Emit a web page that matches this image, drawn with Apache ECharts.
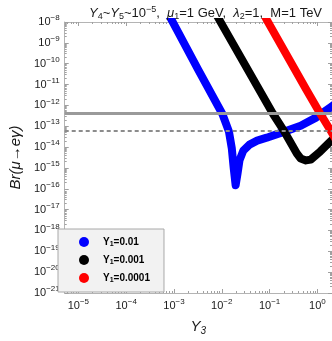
<!DOCTYPE html>
<html lang="en">
<head>
<meta charset="UTF-8">
<title>Br(mu -> e gamma) vs Y3</title>
<style>
  html, body { margin: 0; padding: 0; background: #fff; }
  #main { width: 332px; height: 341px; }
</style>
</head>
<body>
<div id="main"></div>
<script src="https://cdn.jsdelivr.net/npm/echarts@6/dist/echarts.min.js"></script>
<script>
// all values are log10
var seriesNames = ['Y1=0.01', 'Y1=0.001', 'Y1=0.0001'];
var seriesColors = ['#0000ff', '#000000', '#ff0000'];

var logY3Blue = [-3.20, -3.03, -2.50, -1.99, -1.85, -1.79, -1.75, -1.71, -1.67, -1.63, -1.55, -1.42, -1.26, -1.06, -0.69, -0.35, -0.04, 0.29, 0.57];
var logBrBlue = [-7.30, -7.98, -10.26, -12.40, -13.26, -14.07, -15.02, -15.83, -15.26, -14.64, -14.17, -13.88, -13.69, -13.55, -13.26, -12.98, -12.60, -12.07, -11.60];

var logY3Black = [-2.28, -2.03, -0.93, -0.69, -0.43, -0.35, -0.24, -0.14, 0.06, 0.29, 0.57];
var logBrBlack = [-6.95, -7.98, -12.40, -13.26, -14.31, -14.55, -14.64, -14.60, -14.21, -13.69, -13.17];

var logY3Red = [-1.28, -1.04, -0.24, 0.06, 0.29, 0.47];
var logBrRed = [-6.93, -7.98, -11.21, -12.40, -13.26, -13.98];

// experimental bounds: current (solid) and projected (dashed)
var boundLogBr = [-12.38, -13.22];

var xMajor = [-5, -4, -3, -2, -1, 0];
var yMajor = [-21, -20, -19, -18, -17, -16, -15, -14, -13, -12, -11, -10, -9, -8];
var xMin = -5.285, xMax = 0.305, yMin = -21, yMax = -8;

function minors(lo, hi) {
  var out = [];
  for (var n = Math.floor(lo); n < Math.ceil(hi); n++) {
    for (var k = 2; k < 10; k++) {
      var v = n + Math.log10(k);
      if (v > lo && v < hi) out.push(v);
    }
  }
  return out;
}

var font = 'Liberation Sans, Arial, sans-serif';
var frameColor = '#b4b4b4';
var tickColor = '#a0a0a0';

function expLabel(v) {
  var s = v < 0 ? '\u2212' + (-v) : String(v);
  return '{b|10}{s|' + s + '}';
}
var expRich = {
  b: { fontSize: 11, fontFamily: font, color: '#1a1a1a' },
  s: { fontSize: 8, fontFamily: font, color: '#1a1a1a', padding: [0, 0, 8, 0] }
};

function axis(position, min, max, ticks, len, labels, line) {
  return {
    type: 'value', position: position, min: min, max: max,
    splitLine: { show: false },
    axisLine: { show: line, onZero: false, lineStyle: { color: frameColor, width: 1 } },
    axisTick: { show: true, inside: true, length: len, customValues: ticks, lineStyle: { color: tickColor } },
    axisLabel: labels ? { customValues: ticks, formatter: expLabel, rich: expRich, margin: 5, hideOverlap: false } : { show: false }
  };
}

var xAxes = [
  axis('bottom', xMin, xMax, xMajor, 4, true, true),
  axis('bottom', xMin, xMax, minors(xMin, xMax), 2, false, false),
  axis('top', xMin, xMax, xMajor, 4, false, true),
  axis('top', xMin, xMax, minors(xMin, xMax), 2, false, false)
];
xAxes[0].name = '{i|Y}{sub|3}';
xAxes[0].nameLocation = 'middle';
xAxes[0].nameGap = 25;
xAxes[0].nameTextStyle = {
  rich: {
    i: { fontSize: 15, fontStyle: 'italic', fontFamily: font, color: '#1a1a1a' },
    sub: { fontSize: 10, fontStyle: 'italic', fontFamily: font, color: '#1a1a1a', padding: [8, 0, 0, 0] }
  }
};

var yAxes = [
  axis('left', yMin, yMax, yMajor, 4, true, true),
  axis('left', yMin, yMax, minors(yMin, yMax), 2, false, false),
  axis('right', yMin, yMax, yMajor, 4, false, true),
  axis('right', yMin, yMax, minors(yMin, yMax), 2, false, false)
];
yAxes[0].name = 'Br(\u03bc\u2192e\u03b3)';
yAxes[0].nameLocation = 'middle';
yAxes[0].nameGap = 37;
yAxes[0].nameTextStyle = { fontSize: 15, fontStyle: 'italic', fontFamily: font, color: '#1a1a1a' };

function curve(i, xs, ys) {
  return {
    name: seriesNames[i], type: 'line', xAxisIndex: 0, yAxisIndex: 0,
    data: xs.map(function (x, j) { return [x, ys[j]]; }),
    symbol: 'none', color: seriesColors[i], clip: true, silent: true,
    lineStyle: { width: 8, color: seriesColors[i], join: 'round', cap: 'round' }
  };
}

var option = {
  animation: false,
  backgroundColor: '#ffffff',
  title: {
    text: '{i|Y}{sub|4}~{i|Y}{sub|5}~10{sup|\u22125},  {i|\u03bc}{sub|1}=1 GeV,  {i|\u03bb}{sub|2}=1,  M=1 TeV',
    left: 84, top: 0,
    textStyle: {
      fontSize: 13, fontWeight: 'normal', fontFamily: font, color: '#1a1a1a',
      rich: {
        i: { fontSize: 13, fontStyle: 'italic', fontFamily: font, color: '#1a1a1a' },
        sub: { fontSize: 9, fontFamily: font, color: '#1a1a1a', padding: [7, 0, 0, 0] },
        sup: { fontSize: 9, fontFamily: font, color: '#1a1a1a', padding: [0, 0, 8, 0] }
      }
    }
  },
  grid: { left: 57, right: 0, top: 22, bottom: 46, containLabel: false },
  legend: {
    data: seriesNames, orient: 'vertical', left: 58, top: 229,
    icon: 'circle', itemWidth: 10, itemHeight: 10, itemGap: 7,
    padding: [8, 14, 8, 21], backgroundColor: '#f2f2f2',
    borderColor: '#a8a8a8', borderWidth: 1,
    itemStyle: { borderWidth: 0 },
    formatter: function (name) { return '{t|Y}{sub|1}{t|' + name.slice(2) + '}'; },
    textStyle: {
      padding: [0, 0, 0, 9],
      rich: {
        t: { fontSize: 10, fontWeight: 'bold', fontFamily: font, color: '#000' },
        sub: { fontSize: 7, fontWeight: 'bold', fontFamily: font, color: '#000', padding: [5, 0, 0, 0] }
      }
    }
  },
  xAxis: xAxes,
  yAxis: yAxes,
  series: [
    curve(0, logY3Blue, logBrBlue),
    curve(1, logY3Black, logBrBlack),
    curve(2, logY3Red, logBrRed),
    {
      name: 'bounds', type: 'line', data: [], silent: true,
      markLine: {
        symbol: 'none', silent: true, label: { show: false },
        data: [
          { yAxis: boundLogBr[0], lineStyle: { color: '#9a9a9a', width: 3, type: 'solid' } },
          { yAxis: boundLogBr[1], lineStyle: { color: '#8c8c8c', width: 2, type: [4, 3] } }
        ]
      }
    }
  ]
};

var myChart = echarts.init(document.getElementById('main'));
myChart.setOption(option);
</script>
</body>
</html>
